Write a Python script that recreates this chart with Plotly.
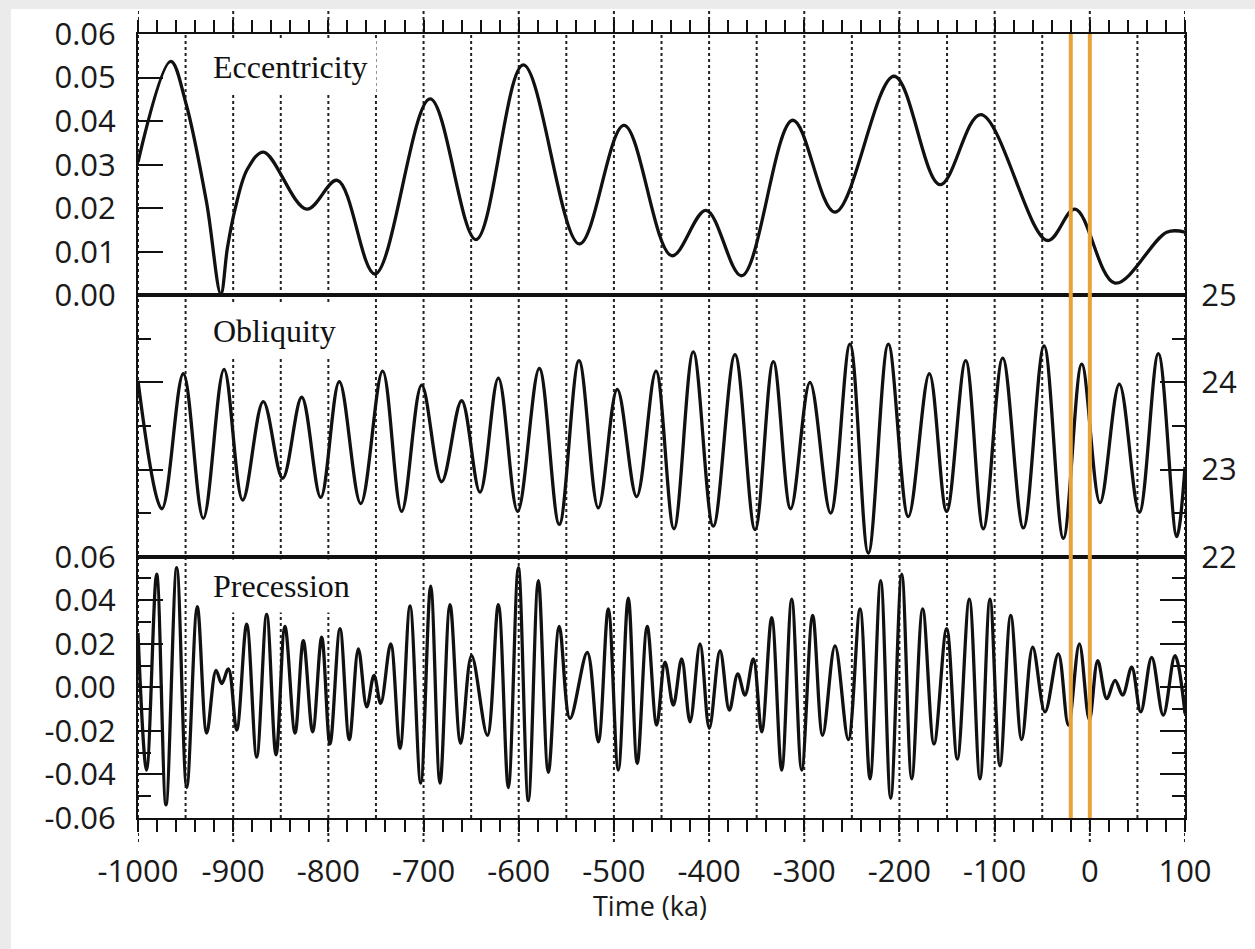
import plotly.graph_objects as go
from plotly.subplots import make_subplots

# ---------------- data ----------------
ecc_t = [-1000, -965.6, -950, -928, -913, -906, -898, -885, -868, -822.8, -790.6, -751, -693.2, -644.9, -595.2,
         -536.3, -489.4, -439.3, -403.2, -365.7, -312.2, -267.7, -205.7, -157.4, -114.6,
         -44.6, -15.5, 26.5, 80.8, 100]
ecc_v = [0.0306, 0.0537, 0.0444, 0.0214, 0.0003, 0.0110, 0.0198, 0.0290, 0.0329, 0.0198, 0.0264, 0.0049, 0.0451, 0.0128, 0.0529,
         0.0118, 0.0390, 0.0091, 0.0195, 0.0045, 0.0402, 0.0191, 0.0503, 0.0254, 0.0415,
         0.0126, 0.0198, 0.0028, 0.0145, 0.0145]

obl_t = [-1000, -975, -952.4, -931.4, -909.6, -890, -868.4, -848, -828, -808,
         -788.5, -766, -743, -723, -702, -681, -660, -640.7, -621.4, -601.1,
         -578.4, -557.4, -536.7, -516.4, -496.5, -476.1, -455.8, -436.9, -416.6, -395.6,
         -372.8, -351.7, -332.5, -314.3, -294, -272.3, -252, -232.7, -211.7, -190.7,
         -168.6, -150.4, -130.4, -111.9, -91.5, -69.8, -48.1, -27.8, -8.5, 10.7,
         31, 52, 72, 91.3, 100]
obl_v = [24.02, 22.55, 24.10, 22.44, 24.15, 22.65, 23.78, 22.90, 23.83, 22.68,
         24.01, 22.61, 24.13, 22.52, 23.97, 22.86, 23.79, 22.74, 24.05, 22.52,
         24.16, 22.37, 24.25, 22.56, 23.92, 22.69, 24.13, 22.32, 24.35, 22.35,
         24.32, 22.31, 24.24, 22.55, 24.00, 22.50, 24.44, 22.04, 24.44, 22.46,
         24.10, 22.52, 24.25, 22.32, 24.28, 22.33, 24.42, 22.21, 24.21, 22.62,
         23.98, 22.51, 24.33, 22.23, 23.03]

prec_t = [-1000, -991, -980.4, -970.6, -959.3, -948.8, -937.7, -927.8, -918, -912,
          -905, -896.3, -885.8, -875.3, -864.8, -855, -845.6, -835, -826.3, -816.5,
          -807, -798.3, -787.8, -778, -768.5, -759.7, -752, -745, -734.5, -724.7,
          -714.2, -703, -692.5, -682.7, -672.2, -661, -649.5, -633, -621.4, -610.9,
          -600.4, -589.9, -579.4, -568.9, -557.4, -546.1, -528, -516.4, -505.9, -495.4,
          -484.9, -475.5, -465, -455.1, -446.3, -437.6, -428.8, -420, -409.5, -399.8,
          -388.5, -378.7, -369.9, -362.3, -353.5, -344.7, -334.2, -323.7, -313.2, -302.7,
          -291.2, -280.7, -267.7, -253.7, -241.4, -230.9, -219.7, -209.2, -197.6, -187.1,
          -175.6, -163.7, -150.4, -139.2, -126.6, -115.4, -104.9, -94.4, -83.1, -71.6,
          -60, -47.1, -33.1, -22.6, -11, -0.5, 8.3, 17.8, 26.5, 34.5,
          44, 53.5, 65, 77.2, 89.5, 100]
prec_v = [0.025, -0.038, 0.052, -0.054, 0.055, -0.046, 0.037, -0.021, 0.0078, 0.0017,
          0.0085, -0.0196, 0.029, -0.032, 0.0336, -0.031, 0.028, -0.021, 0.0214, -0.0204,
          0.023, -0.026, 0.027, -0.024, 0.0177, -0.009, 0.0055, -0.0074, 0.020, -0.028,
          0.0374, -0.044, 0.0465, -0.044, 0.038, -0.0257, 0.0146, -0.022, 0.038, -0.046,
          0.055, -0.052, 0.049, -0.039, 0.028, -0.0143, 0.016, -0.025, 0.036, -0.038,
          0.041, -0.035, 0.028, -0.0173, 0.0116, -0.0082, 0.0131, -0.0158, 0.020, -0.0188,
          0.0169, -0.0105, 0.0062, -0.0036, 0.0131, -0.0204, 0.032, -0.038, 0.0405, -0.038,
          0.033, -0.022, 0.019, -0.024, 0.036, -0.042, 0.049, -0.051, 0.052, -0.042,
          0.036, -0.026, 0.027, -0.033, 0.0405, -0.042, 0.0405, -0.036, 0.033, -0.024,
          0.0184, -0.0113, 0.0154, -0.0173, 0.020, -0.015, 0.0123, -0.0052, 0.0032, -0.0036,
          0.0093, -0.0113, 0.0138, -0.0128, 0.0146, -0.012]

assert len(ecc_t) == len(ecc_v)
assert len(obl_t) == len(obl_v)
assert len(prec_t) == len(prec_v)

panel_names = ["Eccentricity", "Obliquity", "Precession"]
x_title = "Time (ka)"
x_ticks = list(range(-1000, 101, 100))
x_ticktext = [str(v) for v in x_ticks]
ecc_ticks = [0.00, 0.01, 0.02, 0.03, 0.04, 0.05, 0.06]
ecc_ticktext = ["0.00", "0.01", "0.02", "0.03", "0.04", "0.05", "0.06"]
obl_ticks = [22, 23, 24, 25]
obl_minor = [22.5, 23.5, 24.5]
prec_ticks = [-0.06, -0.04, -0.02, 0.0, 0.02, 0.04, 0.06]
prec_ticktext = ["-0.06", "-0.04", "-0.02", "0.00", "0.02", "0.04", "0.06"]
prec_minor = [-0.05, -0.03, -0.01, 0.01, 0.03, 0.05]
grid_x = list(range(-950, 51, 50))
marker_lines = [-20, 0]

# ---------------- figure ----------------
fig = make_subplots(rows=3, cols=1, shared_xaxes=True, vertical_spacing=0)

line_style = dict(color="#111111", width=3.3, shape="spline", smoothing=1.0)
fig.add_trace(go.Scatter(x=ecc_t, y=ecc_v, mode="lines", line=line_style, showlegend=False), row=1, col=1)
fig.add_trace(go.Scatter(x=obl_t, y=obl_v, mode="lines", line=line_style, showlegend=False), row=2, col=1)
fig.add_trace(go.Scatter(x=prec_t, y=prec_v, mode="lines", line=line_style, showlegend=False), row=3, col=1)

BLACK = "#111111"
tick_font = dict(family="Open Sans", size=31, color="#1a1a1a")

common_x = dict(range=[-1000, 100], showgrid=False, zeroline=False, showline=True,
                linecolor=BLACK, linewidth=2)
fig.update_xaxes(**common_x)
fig.update_xaxes(row=1, col=1, side="top", mirror=True, ticks="outside", ticklen=12, tickwidth=2,
                 tickcolor=BLACK, tickmode="linear", tick0=0, dtick=20, showticklabels=False)
fig.update_xaxes(row=2, col=1, mirror=True, ticks="", showticklabels=False)
fig.update_xaxes(row=3, col=1, mirror=True, ticks="outside", ticklen=12, tickwidth=2, tickcolor=BLACK,
                 tickmode="array", tickvals=x_ticks, ticktext=x_ticktext, showticklabels=True,
                 tickfont=dict(family="Open Sans", size=31, color="#1a1a1a"), ticklabelstandoff=13,
                 minor=dict(ticks="outside", ticklen=12, tickwidth=2, tickcolor=BLACK,
                            tickmode="linear", tick0=0, dtick=20))

common_y = dict(showgrid=False, zeroline=False, showline=True, linecolor=BLACK, linewidth=2,
                ticks="inside", tickwidth=2, tickcolor=BLACK, ticklen=25, tickfont=tick_font)
fig.update_yaxes(**common_y)
fig.update_yaxes(row=1, col=1, range=[0, 0.06], mirror=True, tickmode="array",
                 tickvals=ecc_ticks, ticktext=ecc_ticktext, ticklabelstandoff=14)
fig.update_yaxes(row=2, col=1, range=[22, 25], side="right", mirror="ticks", tickmode="array",
                 tickvals=obl_ticks, ticktext=[str(v) for v in obl_ticks], ticklabelstandoff=8,
                 minor=dict(ticks="inside", ticklen=13, tickwidth=2, tickcolor=BLACK,
                            tickmode="array", tickvals=obl_minor))
fig.update_yaxes(row=3, col=1, range=[-0.06, 0.06], mirror="ticks", tickmode="array",
                 tickvals=prec_ticks, ticktext=prec_ticktext, ticklabelstandoff=14,
                 minor=dict(ticks="inside", ticklen=13, tickwidth=2, tickcolor=BLACK,
                            tickmode="array", tickvals=prec_minor))

# ---------------- background frame (light gray strips at top and left) ----------------
W, H = 1255, 949
ml, mr, mt, mb = 138, 70, 32, 131
pw, ph = W - ml - mr, H - mt - mb
fig.add_shape(type="rect", xref="paper", yref="paper",
              x0=-0.3, x1=1.3, y0=1 + (mt - 7) / ph, y1=1.2,
              fillcolor="#ebebeb", line=dict(width=0), layer="below")
fig.add_shape(type="rect", xref="paper", yref="paper",
              x0=-0.3, x1=(11 - ml) / pw, y0=-0.3, y1=1.2,
              fillcolor="#ebebeb", line=dict(width=0), layer="below")

# dotted vertical grid lines every 50 ka
top_ext = 1 + (mt - 7) / ph
bot_ext = -24 / ph
for gx in [-1000] + grid_x + [100]:
    if gx % 100 == 0:
        y0, y1 = bot_ext, top_ext
    else:
        y0, y1 = 0, 1
    fig.add_shape(type="line", xref="x", yref="paper", x0=gx, x1=gx, y0=y0, y1=y1,
                  line=dict(color="#222222", width=2, dash="dot"), layer="below")

# orange marker lines
for mx in marker_lines:
    fig.add_shape(type="line", xref="x", yref="paper", x0=mx, x1=mx, y0=0, y1=1,
                  line=dict(color="#E8A23A", width=4), layer="above")

# panel labels
label_pos = [("y domain", 0.872), ("y2 domain", 0.862), ("y3 domain", 0.888)]
for name, (yr, yy) in zip(panel_names, label_pos):
    fig.add_annotation(text=name, xref="x", x=-931, xanchor="left", yref=yr, y=yy, yanchor="middle",
                       showarrow=False, bgcolor="white", borderpad=8,
                       font=dict(family="Liberation Serif", size=32, color="#111111"))

# x-axis title
fig.add_annotation(text=x_title, xref="x", x=-462, xanchor="center", yref="paper", y=-0.111,
                   yanchor="middle", showarrow=False,
                   font=dict(family="Open Sans", size=27, color="#1a1a1a"))

fig.update_layout(width=W, height=H, margin=dict(l=ml, r=mr, t=mt, b=mb),
                  paper_bgcolor="white", plot_bgcolor="white", showlegend=False)

fig.write_html("out.html", config={"displayModeBar": False},
               post_script="document.body.style.margin='0';")
